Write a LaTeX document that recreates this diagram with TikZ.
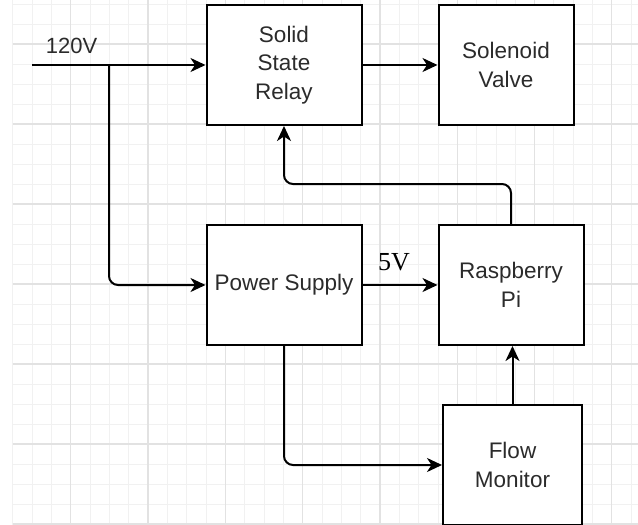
\documentclass[tikz,border=0pt]{standalone}
\usepackage{fontspec}
\setmainfont{Liberation Sans}
\newfontfamily\serifnum{Liberation Serif}
\usetikzlibrary{arrows.meta,positioning}
\definecolor{ink}{HTML}{000000}
\definecolor{boxtext}{HTML}{2B2B2B}
\definecolor{gridminor}{HTML}{F1F1F1}
\definecolor{gridmajor}{HTML}{E2E2E2}
\tikzset{
  blockbox/.style={
    draw=ink,
    line width=2pt,
    fill=white,
    text=boxtext,
    align=center,
    minimum height=120pt,
    inner sep=0pt,
    font=\fontsize{22.5}{28.5}\selectfont
  },
  wire/.style={-{Stealth[length=15pt,width=14pt,inset=4.5pt]}, line width=2pt, draw=ink, rounded corners=9pt},
  minorline/.style={draw=gridminor, line width=0.9pt},
  majorline/.style={draw=gridmajor, line width=1.1pt},
  sanslabel/.style={font=\fontsize{22}{26}\selectfont, text=boxtext, inner sep=0pt},
  seriflabel/.style={font=\serifnum\fontsize{26}{30}\selectfont, text=ink, inner sep=0pt}
}

\begin{document}
\begin{tikzpicture}[x=1pt, y=-1pt]
  \useasboundingbox (0,0) rectangle (638,525);

  % background grid
  \foreach \k in {0,...,32}
    \draw[minorline] ({12.7+19.33*\k},0) -- ({12.7+19.33*\k},525);
  \foreach \k in {0,...,26}
    \draw[minorline] (12.7,{4+20*\k}) -- (638,{4+20*\k});
  \foreach \k in {0,...,7}
    \draw[majorline] ({70.7+77.32*\k},0) -- ({70.7+77.32*\k},525);
  \foreach \k in {0,...,6}
    \draw[majorline] (12.7,{44+80*\k}) -- (638,{44+80*\k});

  % blocks
  \node[blockbox, minimum width=155pt] (relay) at (284,65) {Solid\\State\\Relay};
  \node[blockbox, minimum width=135pt, right=75pt of relay] (valve) {Solenoid\\Valve};
  \node[blockbox, minimum width=155pt, below=98pt of relay] (psu) {Power Supply};
  \node[blockbox, minimum width=145pt, right=75pt of psu] (rpi) {Raspberry\\Pi};
  \node[blockbox, minimum width=139pt] (flow) at (512.5,465) {Flow\\Monitor};

  % labels
  \node[sanslabel] (lbl120) at (71.5,45.5) {120V};
  \node[seriflabel] (lbl5v) at (394,262) {5V};

  % mains feed
  \coordinate (mains) at (32,65);
  \coordinate (tap) at (109,65);
  \draw[wire] (mains) -- (relay.west);
  \draw[wire] (tap) |- (psu.west);
  \draw[wire] (relay.east) -- (valve.west);

  % low voltage side
  \draw[wire] (psu.east) -- (rpi.west);
  \draw[wire] (psu.south) |- (flow.west);
  \draw[wire] (flow.north) -- (flow.north |- rpi.south);
  \draw[wire] (rpi.north) -- ++(0,-40) -| (relay.south);
\end{tikzpicture}
\end{document}
